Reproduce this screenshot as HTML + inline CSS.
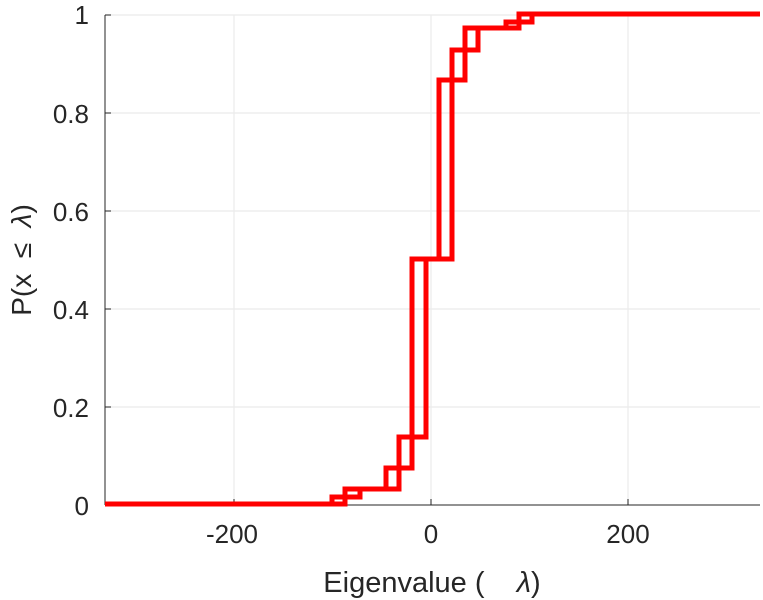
<!DOCTYPE html>
<html><head><meta charset="utf-8"><style>
html,body{margin:0;padding:0;background:#fff;}
svg{display:block;font-family:"Liberation Sans",sans-serif;}
</style></head><body>
<svg width="763" height="600" viewBox="0 0 763 600">
<g stroke="#ebebeb" stroke-width="1.2">
<line x1="234" y1="15" x2="234" y2="505"/>
<line x1="431" y1="15" x2="431" y2="505"/>
<line x1="628" y1="15" x2="628" y2="505"/>
<line x1="105" y1="15" x2="760" y2="15"/>
<line x1="105" y1="113" x2="760" y2="113"/>
<line x1="105" y1="211" x2="760" y2="211"/>
<line x1="105" y1="309" x2="760" y2="309"/>
<line x1="105" y1="407" x2="760" y2="407"/>
</g>
<g stroke="#262626" stroke-width="1">
<line x1="105" y1="505" x2="760" y2="505"/>
<line x1="105" y1="15" x2="105" y2="505"/>
<line x1="234" y1="505" x2="234" y2="499"/>
<line x1="431" y1="505" x2="431" y2="499"/>
<line x1="628" y1="505" x2="628" y2="499"/>
<line x1="105" y1="15" x2="111" y2="15"/>
<line x1="105" y1="113" x2="111" y2="113"/>
<line x1="105" y1="211" x2="111" y2="211"/>
<line x1="105" y1="309" x2="111" y2="309"/>
<line x1="105" y1="407" x2="111" y2="407"/>
</g>
<g fill="none" stroke="#ff0000" stroke-width="5" stroke-linejoin="miter">
<polyline points="105,504 332,504 332,497 345,497 345,489 386,489 386,468 399,468 399,437 412,437 412,259 439,259 439,80 465,80 465,28 506,28 506,22 519,22 519,14 760,14"/>
<polyline points="105,504 345,504 345,497 360,497 360,489 399,489 399,468 412,468 412,437 426,437 426,259 452,259 452,50 478,50 478,28 519,28 519,22 532,22 532,14 760,14"/>
</g>
<g fill="#262626" font-size="26">
<g text-anchor="end">
<text x="89" y="24">1</text>
<text x="89" y="123">0.8</text>
<text x="89" y="221">0.6</text>
<text x="89" y="319">0.4</text>
<text x="89" y="417">0.2</text>
<text x="89" y="515">0</text>
</g>
<g text-anchor="middle">
<text x="232" y="543">-200</text>
<text x="431" y="543">0</text>
<text x="628" y="543">200</text>
<text x="432" y="592" font-size="29">Eigenvalue (<tspan xml:space="preserve">    </tspan><tspan font-style="italic">λ</tspan>)</text>
<text transform="translate(31,260) rotate(-90)" font-size="28" xml:space="preserve">P(x  ≤  <tspan font-style="italic">λ</tspan>)</text>
</g>
</g>
</svg>
</body></html>
